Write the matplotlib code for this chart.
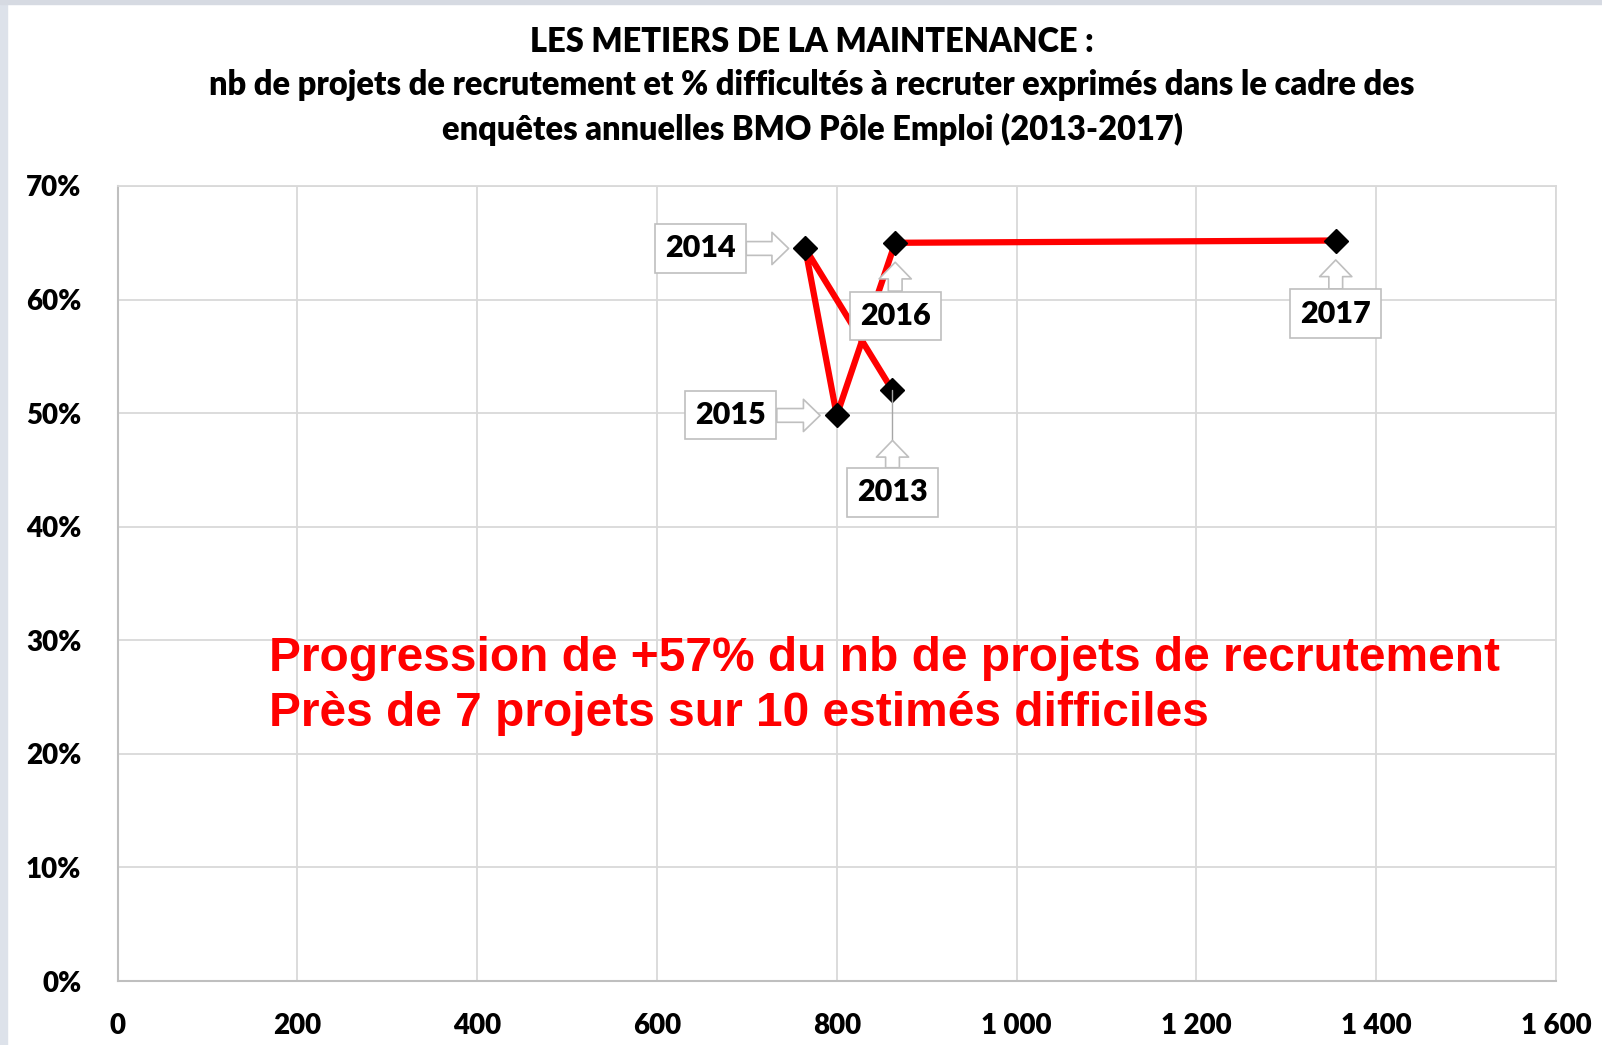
import matplotlib.pyplot as plt
from matplotlib.patches import Rectangle
from matplotlib.ticker import FuncFormatter, MultipleLocator

# ---- data : BMO Pôle Emploi, métiers de la maintenance ----
annees = ['2013', '2014', '2015', '2016', '2017']
projets = [862, 765, 800, 865, 1355]          # nb de projets de recrutement
difficiles = [0.52, 0.645, 0.498, 0.65, 0.652]  # part jugée difficile

# label placement (offset in pixels from the point) and arrow gap
label_offsets = {'2013': (0, -102), '2014': (-105, 0), '2015': (-106, 0),
                 '2016': (0, -73), '2017': (0, -73)}
arrow_gap = {'2013': 36, '2014': 12, '2015': 12, '2016': 14, '2017': 14}

title = ("LES METIERS DE LA MAINTENANCE :\n"
         "nb de projets de recrutement et % difficultés à recruter exprimés dans le cadre des\n"
         "enquêtes annuelles BMO Pôle Emploi (2013-2017)")
message = ("Progression de +57% du nb de projets de recrutement\n"
           "Près de 7 projets sur 10 estimés difficiles")

W, H = 1602, 1045
fig = plt.figure(figsize=(W / 100, H / 100), dpi=100)
fig.patch.set_facecolor('white')

# slide frame showing at the edges
fig.patches.append(Rectangle((0, 0), 7 / W, 1, transform=fig.transFigure,
                             color='#dde2ea', zorder=0))
fig.patches.append(Rectangle((0, 1 - 4 / H), 1, 4 / H, transform=fig.transFigure,
                             color='#d6dae2', zorder=0))

ax = fig.add_axes([117.5 / W, 1 - 981 / H, (1556 - 117.5) / W, (981 - 186) / H])

lab_font = ['Lato', 'DejaVu Sans']
weight = 'heavy'

ax.plot(projets, difficiles, color='#ff0000', lw=4.5, zorder=3,
        solid_joinstyle='round')
ax.plot(projets, difficiles, ls='none', marker='D', ms=12,
        color='black', zorder=4)

for an, x, y in zip(annees, projets, difficiles):
    dx, dy = label_offsets[an]
    ax.annotate(an, xy=(x, y), xytext=(dx, dy), textcoords='offset pixels',
                ha='center', va='center', fontsize=22, fontweight=weight,
                family=lab_font, zorder=6,
                bbox=dict(boxstyle='square,pad=0.33', fc='white', ec='#bfbfbf', lw=1.2),
                arrowprops=dict(arrowstyle='simple,head_length=0.75,head_width=1.45,tail_width=0.62',
                                mutation_scale=16, fc='white', ec='#bfbfbf', lw=1.2,
                                shrinkA=0, shrinkB=arrow_gap[an]))
    if an == '2013':
        # leader line from the callout tip up to the marker
        ax.annotate('', xy=(x, y), xytext=(0, -52), textcoords='offset pixels',
                    arrowprops=dict(arrowstyle='-', color='#a6a6a6', lw=1,
                                    shrinkA=0, shrinkB=0), zorder=5)

ax.set_xlim(0, 1600)
ax.set_ylim(0, 0.70)
ax.xaxis.set_major_locator(MultipleLocator(200))
ax.yaxis.set_major_locator(MultipleLocator(0.10))
ax.xaxis.set_major_formatter(FuncFormatter(lambda v, p: f'{int(v):,}'.replace(',', ' ')))
ax.yaxis.set_major_formatter(FuncFormatter(lambda v, p: f'{v * 100:.0f}%'))

ax.grid(True, color='#d9d9d9', lw=1.3)
ax.set_axisbelow(True)
for side in ['top', 'right']:
    ax.spines[side].set_color('#d9d9d9')
    ax.spines[side].set_linewidth(1.3)
for side in ['left', 'bottom']:
    ax.spines[side].set_color('#bfbfbf')
    ax.spines[side].set_linewidth(1.5)

ax.tick_params(length=0, labelsize=20)
ax.tick_params(axis='y', pad=26)
ax.tick_params(axis='x', pad=23)
for t in ax.get_xticklabels() + ax.get_yticklabels():
    t.set_fontweight(weight)
    t.set_family(lab_font)

fig.text(812 / W, 1 - 86 / H, title, ha='center', va='center', fontsize=23.5,
         fontweight=weight, family=lab_font, linespacing=1.42)

fig.text(269 / W, 1 - 686 / H, message, ha='left', va='center', fontsize=34.5,
         fontweight='bold', family=['Liberation Sans', 'DejaVu Sans'],
         color='#ff0000', linespacing=1.3)

fig.savefig('out.png', dpi=100)
